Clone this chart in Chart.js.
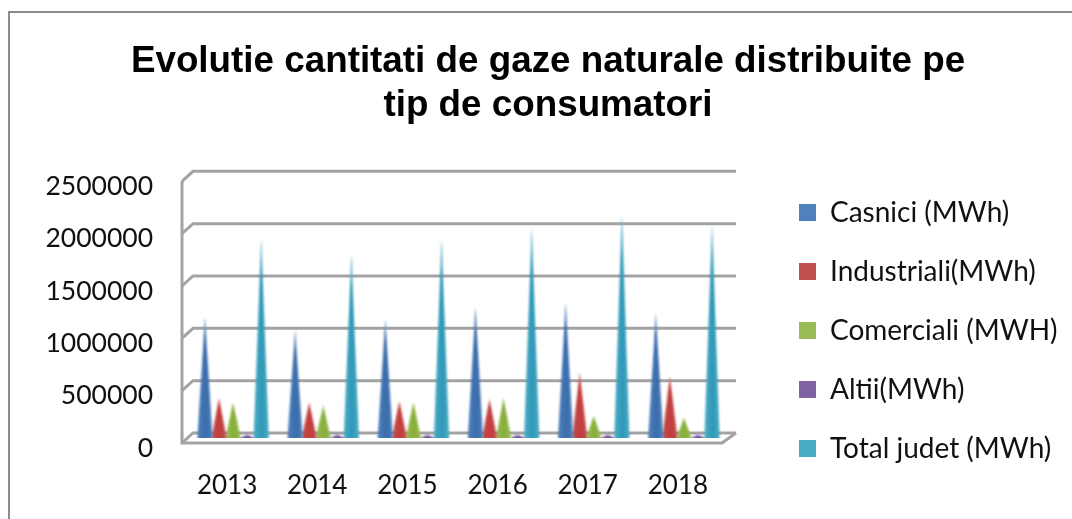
<!DOCTYPE html>
<html>
<head>
<meta charset="utf-8">
<style>html,body{margin:0;padding:0;background:#fff}#w{width:1072px;height:519px}</style>
<script src="https://cdn.jsdelivr.net/npm/chart.js@4"></script>
</head>
<body>
<div id="w"><canvas id="c" width="1072" height="519"></canvas></div>
<script>
const categories = ['2013','2014','2015','2016','2017','2018'];
const casnici     = [1155000,1030000,1135000,1250000,1290000,1190000];
const industriali = [380000,340000,350000,370000,620000,590000];
const comerciali  = [340000,310000,340000,380000,210000,190000];
const altii       = [30000,30000,30000,30000,30000,30000];
const total       = [1900000,1755000,1900000,2010000,2140000,2040000];
const colors = ['#4f81bd','#c0504d','#9bbb59','#8064a2','#4bacc6'];
const darks  = ['#3a6cab','#c43c3c','#86ae38','#6c4f96','#2f98b6'];
const lights = ['#c6d8ee','#f0c4c2','#dce9bd','#cfc1de','#c4e8f2'];

class ConeElement extends Chart.BarElement {
  static id = 'cone';
  draw(ctx) {
    const {x, y, base, width} = this.getProps(['x','y','base','width']);
    const i = colors.indexOf(this.options.backgroundColor);
    const hw = width / 2 + 0.6;
    ctx.save();
    ctx.filter = 'blur(0.9px)';
    const g = ctx.createLinearGradient(x - hw, 0, x + hw, 0);
    g.addColorStop(0, colors[i]);
    g.addColorStop(0.55, darks[i]);
    g.addColorStop(1, colors[i]);
    ctx.fillStyle = g;
    ctx.beginPath();
    ctx.moveTo(x, y);
    ctx.lineTo(x + hw, base);
    ctx.ellipse(x, base, hw, 2.5, 0, 0, Math.PI);
    ctx.closePath();
    ctx.fill();
    const f = ctx.createLinearGradient(0, y, 0, base);
    f.addColorStop(0, lights[i]);
    f.addColorStop(0.07, lights[i] + 'aa');
    f.addColorStop(0.18, lights[i] + '00');
    ctx.fillStyle = f;
    ctx.beginPath();
    ctx.moveTo(x, y);
    ctx.lineTo(x + hw, base);
    ctx.lineTo(x - hw, base);
    ctx.closePath();
    ctx.fill();
    ctx.restore();
  }
}
class ConeController extends Chart.BarController {
  static id = 'cone';
  static defaults = Object.assign({}, Chart.BarController.defaults, {dataElementType: 'cone'});
}
Chart.register(ConeElement, ConeController);

const frame = {
  id: 'frame3d',
  beforeLayout(chart) {
    const lg = chart.legend;
    if (lg && !lg._gapped) {
      lg._gapped = true;
      const fit = lg.fit, draw = lg.draw;
      lg.fit = function () { fit.call(this); this.width += 81; };
      lg.draw = function () {
        const c = this.ctx;
        c.save();
        c.translate(39, 51);
        draw.call(this);
        c.restore();
      };
    }
  },
  beforeDraw(chart) {
    const c = chart.ctx;
    c.save();
    c.strokeStyle = '#8c8c8c';
    c.lineWidth = 2;
    c.strokeRect(9, 12, chart.width + 20, chart.height + 20);
    c.restore();
  },
  beforeDatasetsDraw(chart) {
    const c = chart.ctx, yS = chart.scales.y, xS = chart.scales.x;
    const left = xS.left - 6, back = left + 11, right = xS.right + 7, d = 5;
    c.save();
    c.filter = 'blur(0.6px)';
    c.strokeStyle = '#a3a3a3';
    c.lineWidth = 3;
    yS.ticks.forEach(t => {
      const y = yS.getPixelForValue(t.value);
      c.beginPath();
      c.moveTo(left, y + d);
      c.lineTo(back, y - d);
      c.lineTo(right, y - d);
      c.stroke();
    });
    const y0 = yS.getPixelForValue(0), yT = yS.getPixelForValue(yS.max);
    c.beginPath();
    c.moveTo(left, yT + d);
    c.lineTo(left, y0 + d);
    c.lineTo(right - 14, y0 + d);
    c.lineTo(right, y0 - d);
    c.stroke();
    c.restore();
  }
};

const names = ['Casnici (MWh)','Industriali(MWh)','Comerciali (MWH)','Altii(MWh)','Total judet (MWh)'];
const series = [casnici, industriali, comerciali, altii, total];

new Chart(document.getElementById('c'), {
  type: 'cone',
  data: {
    labels: categories,
    datasets: series.map((s, i) => ({
      label: names[i], data: s, backgroundColor: colors[i],
      categoryPercentage: 0.78, barPercentage: 1
    }))
  },
  plugins: [frame],
  options: {
    responsive: false,
    animation: false,
    layout: {padding: {left: 24, right: 0, top: 40, bottom: 0}},
    plugins: {
      tooltip: {enabled: false},
      title: {
        display: true,
        text: ['Evolutie cantitati de gaze naturale distribuite pe', 'tip de consumatori'],
        color: '#000',
        font: {family: '"Liberation Sans"', size: 36.8, weight: 'bold', lineHeight: 1.2},
        padding: {top: 0, bottom: 48}
      },
      legend: {
        position: 'right',
        labels: {
          color: '#111',
          font: {family: 'Lato', size: 28},
          boxWidth: 17, boxHeight: 17, padding: 31
        }
      }
    },
    scales: {
      x: {
        grid: {display: false},
        border: {display: false},
        ticks: {color: '#111', font: {family: 'Lato', size: 26}, padding: 24, labelOffset: -6, maxRotation: 0},
        afterFit(s) { s.height = 81; }
      },
      y: {
        min: 0, max: 2500000,
        grid: {display: false},
        border: {display: false},
        ticks: {stepSize: 500000, color: '#111', font: {family: 'Lato', size: 26.5}, padding: 27, labelOffset: 10,
                callback: v => String(v)},
        afterFit(s) { s.width = 164; }
      }
    }
  }
});
</script>
</body>
</html>
